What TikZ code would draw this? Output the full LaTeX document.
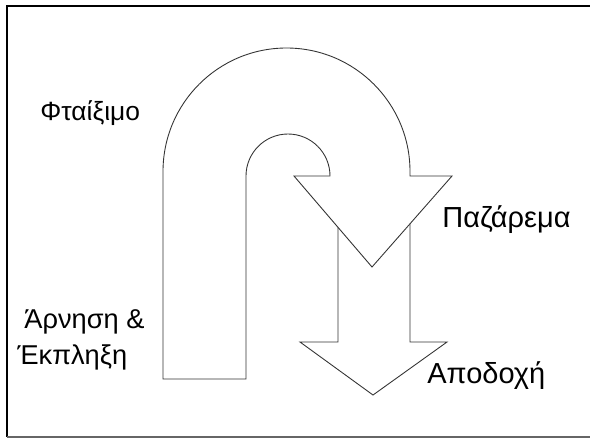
\documentclass[tikz,border=0pt]{standalone}
\usepackage{fontspec}
\setmainfont{Liberation Sans}
\usepackage{tikz}
\usetikzlibrary{positioning,calc}

\begin{document}
\begin{tikzpicture}[x=0.02cm,y=-0.02cm,
  stage/.style={font=\fontsize{16.5}{23}\selectfont, inner sep=0pt, anchor=west},
  band/.style={draw=black!80, line width=0.5pt, fill=white, line join=miter}]
\useasboundingbox (0,0) rectangle (590,440);
%% Frame
\draw[line width=1.3pt] (600,6) -- (7,6) -- (7,437);
\draw[black!60, line width=0.8pt] (7,437) -- (600,437);
%% Straight arrow (behind the U-turn)
\draw[band] (338,200) -- (338,342) -- (300,342) -- (373,395) -- (447,342)
  -- (410,342) -- (410,200) -- cycle;
%% U-turn arrow
\draw[band] (163,379) -- (163,171.5) arc[start angle=180, end angle=360, radius=123.5]
  -- (410,176) -- (452,176) -- (372,267) -- (294,176) -- (330,176)
  arc[start angle=0, end angle=-180, radius=42] -- (246,379) -- cycle;
%% Labels
\node[stage, font=\fontsize{15}{20}\selectfont] (blame) at (40,113) {Φταίξιμο};
\node[stage, align=left, font=\fontsize{15.5}{20.5}\selectfont] (denial) at (17,340)
  {\hspace*{4pt}Άρνηση \&\\Έκπληξη};
\node[stage] (bargain) at (442,220) {Παζάρεμα};
\node[stage] (accept) at (427,376) {Αποδοχή};
\end{tikzpicture}
\end{document}
